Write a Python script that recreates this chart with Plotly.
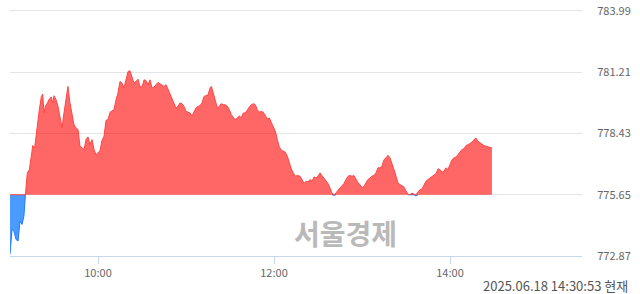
import numpy as np
import pandas as pd
import plotly.graph_objects as go

# minutes since 09:00 and index values
minutes = [0, 1.4, 2.7, 4.1, 5.5, 6.8, 8.2, 9.5, 10.5, 11.8, 13.2, 14.5, 15.5, 16.8, 17.7, 18.6,
           20.0, 21.4, 22.3, 23.2, 24.1, 25.5, 26.8, 28.2, 29.1, 30.0, 31.4, 32.7, 34.1, 35.5, 36.8,
           38.2, 39.5, 40.9, 42.3, 43.6, 45.0, 46.4, 47.7, 49.1, 50.5, 51.8, 53.2, 54.5, 55.9, 57.3,
           58.6, 60.0, 61.4, 62.7, 64.1, 65.5, 66.8, 68.2, 69.5, 70.9, 72.3, 73.6, 75.0, 76.4, 77.7,
           79.1, 80.5, 81.8, 83.2, 84.5, 85.9, 87.3, 88.6, 90.0, 91.4, 92.7, 94.1, 95.5, 96.8, 98.2,
           99.5, 100.9, 102.3, 103.6, 105.0, 106.4, 107.7, 109.1, 110.5, 111.8, 113.2, 114.5, 115.9,
           117.3, 118.6, 120.0, 121.4, 122.7, 124.1, 125.5, 126.8, 128.2, 129.5, 130.9, 132.3, 133.6,
           135.0, 136.4, 137.3, 138.6, 140.0, 141.4, 142.7, 144.1, 145.5, 146.8, 148.2, 149.5, 150.9,
           152.3, 153.6, 155.0, 156.4, 157.7, 159.1, 160.5, 161.8, 163.2, 164.5, 165.9, 167.3, 168.6,
           170.0, 171.4, 172.7, 174.1, 175.5, 176.8, 178.2, 179.5, 180.9, 182.3, 183.6, 185.0, 186.4,
           187.7, 189.1, 190.5, 191.8, 193.2, 194.5, 195.9, 197.7, 199.1, 200.5, 201.8, 203.2, 204.5,
           205.9, 207.3, 208.6, 210.0, 211.4, 212.7, 214.1, 215.5, 216.8, 218.2, 219.5, 220.9, 222.3,
           223.6, 225.0, 226.4, 227.7, 229.1, 230.5, 231.8, 233.2, 234.5, 235.9, 237.3, 238.6, 240.0,
           241.4, 242.7, 244.1, 245.5, 246.8, 248.2, 249.5, 250.9, 252.3, 253.6, 255.0, 256.4, 257.7,
           259.1, 260.5, 261.8, 263.2, 264.5, 265.9, 267.3, 268.6, 270.0, 271.4, 272.7, 274.1, 275.5,
           276.8, 278.2, 279.5, 280.9, 282.3, 283.6, 285.0, 286.4, 287.7, 289.1, 290.5, 291.8, 293.2,
           294.5, 295.9, 297.3, 298.6, 300.0, 301.4, 302.7, 304.1, 305.5, 306.8, 308.2, 309.5, 310.9,
           312.3, 313.6, 315.0, 316.4, 317.7, 319.1, 320.5, 321.8, 323.2, 324.5, 325.9, 327.3, 328.6]

values = [772.95, 774.08, 774.0, 773.62, 773.55, 774.45, 774.3, 774.68, 775.65, 776.64, 776.79, 777.39,
          777.88, 777.77, 778.3, 778.68, 779.51, 780.11, 780.21, 779.36, 779.66, 779.81, 779.99, 780.08,
          779.81, 780.14, 779.96, 779.66, 779.21, 778.68, 779.36, 780.04, 780.56, 779.81, 779.28, 778.83,
          778.68, 778.6, 777.85, 777.77, 777.7, 778.15, 778.27, 777.92, 778.15, 777.7, 777.47, 777.55,
          777.65, 778.1, 778.3, 779.03, 779.05, 779.39, 779.43, 779.51, 779.96, 780.26, 780.79, 780.71,
          780.49, 780.86, 781.24, 781.27, 780.94, 780.71, 780.79, 780.89, 780.56, 780.53, 780.86, 780.83,
          780.64, 780.86, 780.49, 780.53, 780.64, 780.74, 780.68, 780.64, 780.56, 780.64, 780.44, 780.26,
          780.04, 779.81, 779.58, 779.66, 779.81, 779.78, 779.66, 779.43, 779.39, 779.36, 779.23, 779.43,
          779.58, 779.66, 779.68, 779.81, 780.11, 780.14, 780.18, 780.49, 780.56, 780.26, 779.96, 779.58,
          779.66, 779.78, 779.73, 779.73, 779.66, 779.51, 779.28, 779.13, 779.05, 779.13, 779.23, 779.13,
          779.36, 779.36, 779.51, 779.63, 779.73, 779.78, 779.73, 779.51, 779.39, 779.43, 779.39, 779.21,
          779.08, 779.13, 778.9, 778.68, 778.53, 778.15, 777.82, 777.67, 777.62, 777.58, 777.39, 777.09,
          776.82, 776.64, 776.49, 776.52, 776.49, 776.34, 776.16, 776.26, 776.22, 776.34, 776.26, 776.46,
          776.41, 776.49, 776.64, 776.52, 776.41, 776.26, 776.16, 775.96, 775.73, 775.62, 775.73, 775.85,
          775.96, 776.04, 776.16, 776.34, 776.49, 776.52, 776.49, 776.52, 776.34, 776.19, 776.11, 775.96,
          776.04, 776.16, 776.34, 776.41, 776.49, 776.52, 776.64, 776.87, 776.87, 776.94, 777.24, 777.32,
          777.44, 777.32, 777.09, 776.79, 776.49, 776.19, 776.11, 776.04, 776.0, 775.82, 775.67, 775.64,
          775.73, 775.67, 775.59, 775.77, 775.88, 775.91, 776.11, 776.26, 776.34, 776.41, 776.46, 776.52,
          776.61, 776.82, 776.79, 776.67, 776.72, 776.87, 776.79, 777.02, 777.24, 777.32, 777.36, 777.47,
          777.58, 777.7, 777.73, 777.88, 777.92, 777.97, 778.03, 778.15, 778.22, 778.07, 778.0, 777.97,
          777.88, 777.85, 777.82, 777.77, 777.77]

prev_close = 775.65
y_ticks = [772.87, 775.65, 778.43, 781.21, 783.99]
x_ticks = ["2025-06-18 10:00", "2025-06-18 12:00", "2025-06-18 14:00"]
x_tick_text = ["10:00", "12:00", "14:00"]
stamp_text = "2025.06.18 14:30:53 현재"
watermark = "서울경제"

t0 = pd.Timestamp("2025-06-18 09:00")
x = t0 + pd.to_timedelta(minutes, unit="min")
v = np.array(values)
up = np.maximum(v, prev_close)
dn = np.minimum(v, prev_close)
base = np.full(len(v), prev_close)

# blue line only where the index is below the previous close, plus neighbours
below = v < prev_close
show_dn = below.copy()
show_dn[1:] |= below[:-1]
show_dn[:-1] |= below[1:]
dn_line = np.where(show_dn, dn, np.nan)

fig = go.Figure()
fig.add_trace(go.Scatter(x=x, y=base, mode="lines", line=dict(width=0), hoverinfo="skip", showlegend=False))
fig.add_trace(go.Scatter(x=x, y=dn, mode="lines", fill="tonexty", fillcolor="rgba(30,130,255,0.8)",
                         line=dict(width=0), showlegend=False))
fig.add_trace(go.Scatter(x=x, y=dn_line, mode="lines", line=dict(color="#1e7bff", width=1),
                         connectgaps=False, showlegend=False))
fig.add_trace(go.Scatter(x=x, y=base, mode="lines", line=dict(width=0), hoverinfo="skip", showlegend=False))
fig.add_trace(go.Scatter(x=x, y=up, mode="lines", fill="tonexty", fillcolor="rgba(255,0,0,0.6)",
                         line=dict(color="#ff4646", width=1), showlegend=False))

fig.update_layout(
    width=640, height=294,
    margin=dict(l=10, r=58, t=2, b=38),
    paper_bgcolor="white", plot_bgcolor="white",
    font=dict(family="Noto Sans CJK KR, Noto Sans, sans-serif", color="#666666", size=11),
    xaxis=dict(type="date", range=["2025-06-18 09:00", "2025-06-18 15:30"],
               tickvals=x_ticks, ticktext=x_tick_text,
               showgrid=False, zeroline=False, showline=True, linecolor="#c9d7ec", linewidth=1,
               ticks="outside", ticklen=7, tickcolor="#c9d7ec", tickfont=dict(size=11, color="#666666")),
    yaxis=dict(side="right", range=[772.87, 784.3], tickmode="array", tickvals=y_ticks,
               ticktext=[f"{t:.2f}" for t in y_ticks],
               showgrid=True, gridcolor="#e4e4e4", zeroline=False, showline=False,
               ticks="outside", ticklen=12, tickcolor="rgba(0,0,0,0)", ticklabeloverflow="allow",
               tickfont=dict(size=11, color="#666666")),
    annotations=[
        dict(text="<b>" + watermark + "</b>", xref="paper", yref="paper", x=0.587, y=0.091,
             xanchor="center", yanchor="middle",
             showarrow=False, font=dict(size=28, color="#b9b9b9", family="Noto Sans CJK KR")),
        dict(text=stamp_text, xref="paper", yref="paper", x=1.084, y=-0.117, xanchor="right", yanchor="middle",
             showarrow=False, font=dict(size=13, color="#555555", family="Noto Sans CJK KR")),
    ],
)

fig.write_html("out.html")
